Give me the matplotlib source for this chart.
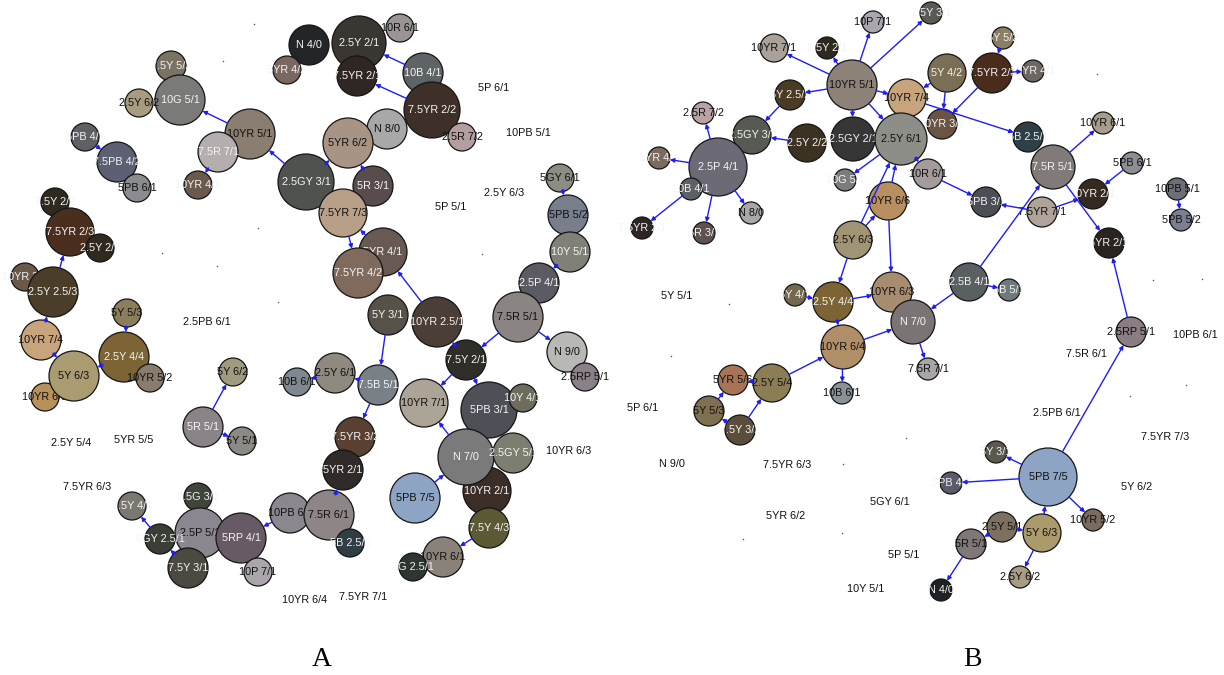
import numpy as np
import matplotlib
matplotlib.use('Agg')
import matplotlib.pyplot as plt
from matplotlib.patches import Circle

plt.rcParams['font.family'] = ['Liberation Sans', 'DejaVu Sans']

# ---- network A: colour chips (name, layout x, layout y, radius, fill, label colour)
a_names = ['7.5Y 5/2', '10G 5/1', '2.5Y 6/2', '5PB 4/1', '7.5PB 4/2', '5PB 6/1',
           '7.5Y 2/2', '7.5YR 2/3', '2.5Y 2/2', '10YR 3/2', '2.5Y 2.5/3', '5Y 5/3',
           '10YR 7/4', '2.5Y 4/4', '10YR 5/2', '10YR 6/5', '5Y 6/3', '5R 5/1',
           '5Y 6/2', '5Y 5/1', '7.5Y 4/1', '2.5G 3/1', '2.5P 5/1', '5GY 2.5/1',
           '7.5Y 3/1', '5RP 4/1', '10P 7/1', '10PB 6/1', '7.5R 6/1', '5B 2.5/1',
           '10B 6/1', '2.5Y 6/1', '7.5B 5/1', '5Y 3/1', '7.5YR 3/2', '5YR 2/1',
           'N 4/0', '10R 6/1', '2.5Y 2/1', '5YR 4/2', '7.5YR 2/1', '10B 4/1',
           '7.5YR 2/2', '2.5R 7/2', '10YR 5/1', '7.5R 7/1', '10YR 4/1', '2.5GY 3/1',
           'N 8/0', '5YR 6/2', '5R 3/1', '7.5YR 7/3', '5YR 4/1', '7.5YR 4/2',
           '5GY 6/1', '5PB 5/2', '10Y 5/1', '2.5P 4/1', '7.5R 5/1', '10YR 2.5/1',
           'N 9/0', '2.5RP 5/1', '7.5Y 2/1', '10YR 7/1', '10YR 2/1', '5PB 3/1',
           '10Y 4/1', 'N 7/0', '2.5GY 5/1', '5PB 7/5', '7.5Y 4/3', '10YR 6/1',
           '5G 2.5/1']
a_x = [171, 180, 139, 85, 117, 137, 55, 70, 100, 25, 53, 127, 41, 124, 150, 45, 74, 203,
       233, 242, 132, 198, 200, 160, 188, 241, 258, 290, 329, 350, 297, 335, 378, 388, 355,
       343, 309, 400, 359, 287, 357, 423, 432, 462, 250, 218, 198, 306, 387, 348, 373, 343,
       383, 358, 560, 568, 570, 539, 518, 437, 567, 585, 466, 424, 487, 489, 523, 466, 513,
       415, 489, 443, 413]
a_y = [66, 100, 103, 137, 162, 188, 202, 232, 248, 277, 292, 313, 340, 357, 378, 397, 376,
       427, 372, 441, 506, 497, 533, 539, 568, 538, 572, 513, 515, 543, 382, 373, 385, 315,
       437, 470, 45, 28, 43, 70, 76, 73, 110, 137, 134, 152, 185, 182, 129, 143, 186, 213,
       252, 273, 178, 215, 252, 283, 317, 322, 352, 377, 360, 403, 491, 410, 398, 457, 453,
       498, 528, 557, 567]
a_r = [15, 25, 14, 14, 20, 14, 14, 24, 14, 14, 25, 14, 20, 25, 14, 14, 25, 20, 14, 14, 14,
       14, 25, 15, 20, 25, 14, 20, 25, 14, 14, 20, 20, 20, 20, 20, 20, 14, 27, 14, 20, 20,
       28, 14, 25, 20, 14, 28, 20, 25, 20, 24, 24, 25, 14, 20, 20, 20, 25, 25, 20, 14, 20,
       24, 24, 28, 14, 28, 20, 25, 20, 20, 14]
a_fill = ['#7a7262', '#7a7a78', '#a89c80', '#5e6064', '#5c6072', '#8a8c90', '#2e2a1e',
          '#4a2e1e', '#302a1e', '#6a5848', '#4a3e28', '#8a7e5c', '#c8a47c', '#7c6434',
          '#8a7c6c', '#b8905c', '#aa9c70', '#8a8488', '#a09a80', '#8c8a84', '#7a7870',
          '#3e463c', '#8a8790', '#3a3e36', '#4c4a40', '#685a64', '#aaa6ac', '#8a888e',
          '#8e8686', '#2e3e44', '#7e888e', '#8e8a80', '#788088', '#575248', '#5a4030',
          '#302a28', '#222628', '#9a9494', '#3a3632', '#7a6860', '#302624', '#5e6466',
          '#3e3028', '#b49ea0', '#8a7e70', '#b4aeae', '#6a5a4e', '#505250', '#a8a8a8',
          '#a89484', '#584c4c', '#b8a088', '#685a52', '#806a5c', '#8c8e84', '#787e8c',
          '#808078', '#5c5a62', '#8a8482', '#4a3e36', '#b8b8b4', '#8a8088', '#302e28',
          '#aca496', '#3a2e26', '#4e5058', '#6e6c5c', '#7a7a7a', '#7c7e70', '#8ea4c4',
          '#5c5a34', '#8a8278', '#2e3632']
a_ink = list('wwkwwkwwwwwkkwkkkwkkwwkwwwkkkwkkwwwwwkwwwwwkkwwwkkwkwwkkwwkwkkwkwwwwwkwkw')

a_edges = [('10YR 5/1', '10G 5/1'), ('7.5R 7/1', '10YR 4/1'), ('2.5GY 3/1', '10YR 5/1'),
           ('2.5GY 3/1', '5YR 6/2'), ('5R 3/1', '5YR 6/2'), ('5YR 4/1', '7.5YR 7/3'),
           ('7.5YR 7/3', '7.5YR 4/2'), ('10YR 2.5/1', '5YR 4/1'), ('10B 4/1', '2.5Y 2/1'),
           ('7.5YR 2/2', '7.5YR 2/1'), ('5GY 6/1', '5PB 5/2'), ('10Y 5/1', '2.5P 4/1'),
           ('7.5R 5/1', 'N 9/0'), ('7.5R 5/1', '7.5Y 2/1'), ('7.5Y 2/1', '10YR 7/1'),
           ('7.5Y 2/1', '5PB 3/1'), ('N 7/0', '10YR 7/1'), ('5PB 7/5', 'N 7/0'),
           ('7.5Y 4/3', '10YR 6/1'), ('5Y 3/1', '7.5B 5/1'), ('7.5B 5/1', '2.5Y 6/1'),
           ('2.5Y 6/1', '10B 6/1'), ('7.5B 5/1', '7.5YR 3/2'), ('7.5R 6/1', '5YR 2/1'),
           ('10PB 6/1', '5RP 4/1'), ('5R 5/1', '5Y 6/2'), ('5R 5/1', '5Y 5/1'),
           ('5GY 2.5/1', '7.5Y 4/1'), ('7.5Y 3/1', '5GY 2.5/1'), ('2.5Y 2.5/3', '7.5YR 2/3'),
           ('10YR 7/4', '2.5Y 2.5/3'), ('10YR 7/4', '5Y 6/3'), ('2.5Y 4/4', '5Y 6/3'),
           ('5Y 5/3', '2.5Y 4/4'), ('5PB 4/1', '7.5PB 4/2'), ('7.5Y 2/1', '10YR 2.5/1')]

a_free = ['5P 6/1', '10PB 5/1', '2.5Y 6/3', '5P 5/1', '2.5PB 6/1', '2.5Y 5/4', '5YR 5/5',
          '7.5YR 6/3', '10YR 6/4', '7.5YR 7/1', '10YR 6/3']
a_free_x = [494, 528, 504, 451, 207, 71, 134, 87, 305, 363, 569]
a_free_y = [88, 133, 193, 207, 322, 443, 440, 487, 600, 597, 451]
a_dot_x = [254, 223, 258, 217, 278, 162, 482]
a_dot_y = [24, 61, 228, 266, 302, 253, 254]

# ---- network B
b_names = ['10YR 7/1', '2.5Y 2/1', '10P 7/1', '7.5Y 3/1', '10YR 5/1', '5Y 2.5/2',
           '2.5R 7/2', '2.5GY 3/1', '2.5Y 2/2', '2.5GY 2/1', '2.5P 4/1', '5YR 4/1',
           '10B 4/1', '7.5YR 2/1', '5R 3/1', 'N 8/0', '5Y 4/1', '5Y 5/2', '7.5YR 2/3',
           '5Y 4/2', '10YR 7/4', '10YR 3/2', '2.5Y 6/1', '10G 5/1', '10R 6/1', '5PB 3/1',
           '10YR 6/6', '2.5Y 6/3', '2.5Y 4/4', '10YR 6/3', '2.5B 4/1', '5B 5/1',
           '10YR 4/1', '5B 2.5/1', '7.5R 5/1', '10YR 6/1', '5PB 6/1', '10YR 2/1',
           '7.5YR 7/1', '5YR 2/1', '10PB 5/1', '5PB 5/2', '2.5RP 5/1', '5PB 7/5',
           '10YR 5/2', '5Y 6/3', '2.5Y 6/2', 'N 7/0', '10YR 6/4', '7.5R 7/1', '10B 6/1',
           '5Y 3/1', '5PB 4/2', '2.5Y 5/1', '5R 5/1', 'N 4/0', '5YR 5/6', '2.5Y 5/4',
           '5Y 5/3', '7.5Y 3/2']
b_x = [774, 827, 873, 931, 852, 790, 703, 752, 807, 853, 718, 659, 691, 642, 704, 751, 795,
       1003, 992, 947, 907, 942, 901, 845, 928, 986, 888, 853, 833, 892, 969, 1009, 1033,
       1028, 1053, 1103, 1132, 1093, 1042, 1109, 1177, 1181, 1131, 1048, 1093, 1042, 1020,
       913, 843, 928, 842, 996, 951, 1002, 971, 941, 733, 772, 709, 740]
b_y = [48, 48, 22, 13, 85, 95, 113, 135, 143, 139, 167, 158, 189, 228, 233, 213, 295, 38,
       73, 73, 98, 124, 139, 180, 174, 202, 201, 240, 302, 292, 282, 290, 71, 137, 167,
       123, 163, 194, 212, 243, 189, 220, 332, 477, 520, 533, 577, 322, 347, 369, 393, 452,
       483, 527, 544, 590, 380, 383, 411, 430]
b_r = [14, 11, 11, 11, 25, 15, 11, 19, 19, 22, 29, 11, 11, 11, 11, 11, 11, 11, 20, 19, 19,
       15, 26, 11, 15, 15, 19, 19, 20, 20, 19, 11, 11, 15, 22, 11, 11, 15, 15, 15, 11, 11,
       15, 29, 11, 19, 11, 22, 22, 11, 11, 11, 11, 15, 15, 11, 15, 19, 15, 15]
b_fill = ['#aaa29a', '#2e2a1e', '#aaa6b0', '#5c5a54', '#8c8278', '#4a3c24', '#b8a2a4',
          '#565a52', '#3c3222', '#363636', '#6c6a74', '#7a6a60', '#5c6264', '#2e2624',
          '#5e5250', '#a8a8a8', '#74684e', '#8a7e64', '#4a2c1c', '#7a6e54', '#c8a47c',
          '#6a5444', '#8e8e88', '#7c7c7c', '#a49c9c', '#4c4e56', '#b89060', '#a09474',
          '#7c6434', '#a88c70', '#5a6062', '#707a7c', '#6e6660', '#2e4046', '#807a78',
          '#a89c8c', '#8c8e94', '#342a20', '#b0a49a', '#2a2420', '#6c6e78', '#7a8090',
          '#8a7e84', '#8ea4c4', '#7a6c5e', '#aa9a6c', '#a89c84', '#7a7474', '#b08e68',
          '#aaa6a6', '#8a9298', '#5c584e', '#5a5c6c', '#7e7060', '#7e7878', '#1e2226',
          '#a87458', '#8c7e54', '#7e7050', '#5a4e3a']
b_ink = list('kwkwkwkwwwwwwwwkwwwwkwkwkwkkwkwwwwwkkwkwkkkkkkkwkkkwwkkwkkkw')

b_edges = [('10YR 5/1', '10YR 7/1'), ('10YR 5/1', '5Y 2.5/2'), ('10YR 5/1', '10P 7/1'),
           ('10YR 5/1', '7.5Y 3/1'), ('10YR 5/1', '2.5Y 2/1'), ('10YR 5/1', '2.5Y 6/1'),
           ('10YR 5/1', '2.5GY 2/1'), ('10YR 5/1', '10YR 7/4'), ('5Y 2.5/2', '2.5GY 3/1'),
           ('2.5Y 2/2', '2.5GY 3/1'), ('2.5P 4/1', '5YR 4/1'), ('2.5P 4/1', '2.5R 7/2'),
           ('2.5P 4/1', '5R 3/1'), ('2.5P 4/1', 'N 8/0'), ('10B 4/1', '7.5YR 2/1'),
           ('5Y 5/2', '7.5YR 2/3'), ('7.5YR 2/3', '10YR 4/1'), ('5Y 4/2', '10YR 7/4'),
           ('5Y 4/2', '10YR 3/2'), ('7.5YR 2/3', '10YR 3/2'), ('10YR 7/4', '5B 2.5/1'),
           ('2.5Y 6/1', '10G 5/1'), ('2.5Y 6/1', '10R 6/1'), ('10R 6/1', '5PB 3/1'),
           ('10YR 6/6', '2.5Y 6/1'), ('2.5Y 6/3', '10YR 6/6'), ('2.5Y 6/3', '2.5Y 4/4'),
           ('2.5Y 6/3', '2.5Y 6/1'), ('10YR 6/6', '10YR 6/3'), ('2.5Y 4/4', '10YR 6/3'),
           ('2.5B 4/1', '5B 5/1'), ('2.5B 4/1', 'N 7/0'), ('2.5B 4/1', '7.5R 5/1'),
           ('7.5R 5/1', '10YR 6/1'), ('5PB 6/1', '10YR 2/1'), ('7.5YR 7/1', '10YR 2/1'),
           ('7.5YR 7/1', '5PB 3/1'), ('7.5R 5/1', '5YR 2/1'), ('2.5RP 5/1', '5YR 2/1'),
           ('10PB 5/1', '5PB 5/2'), ('5PB 7/5', '2.5RP 5/1'), ('5PB 7/5', '10YR 5/2'),
           ('5Y 6/3', '5PB 7/5'), ('5Y 6/3', '2.5Y 6/2'), ('5PB 7/5', '5Y 3/1'),
           ('5PB 7/5', '5PB 4/2'), ('2.5Y 5/1', '5Y 6/3'), ('2.5Y 5/1', '5R 5/1'),
           ('5R 5/1', 'N 4/0'), ('10YR 6/4', 'N 7/0'), ('N 7/0', '7.5R 7/1'),
           ('10YR 6/4', '10B 6/1'), ('2.5Y 5/4', '10YR 6/4'), ('2.5Y 5/4', '5YR 5/6'),
           ('5Y 5/3', '5YR 5/6'), ('7.5Y 3/2', '5Y 5/3'), ('7.5Y 3/2', '2.5Y 5/4'),
           ('2.5Y 4/4', '10YR 6/4'), ('5Y 4/1', '2.5Y 4/4')]

b_free = ['5Y 5/1', '5P 6/1', 'N 9/0', '7.5YR 6/3', '5YR 6/2', '5GY 6/1', '5P 5/1',
          '10Y 5/1', '10PB 6/1', '7.5R 6/1', '2.5PB 6/1', '7.5YR 7/3', '5Y 6/2']
b_free_x = [677, 643, 672, 787, 786, 890, 904, 866, 1195, 1086, 1057, 1165, 1137]
b_free_y = [296, 408, 464, 465, 516, 502, 555, 589, 335, 354, 413, 437, 487]
b_dot_x = [1097, 1153, 1202, 1186, 1130, 906, 843, 842, 671, 743, 729]
b_dot_y = [74, 280, 279, 385, 396, 438, 464, 533, 356, 539, 304]

EDGE = '#1c1cff'
INK = {'w': '#f4f4f4', 'k': '#111111'}


def draw_network(ax, names, xs, ys, rs, fills, inks, edges):
    pos = {n: (x, y, r) for n, x, y, r in zip(names, xs, ys, rs)}
    z = 3
    for n, x, y, r, fc, ink in zip(names, xs, ys, rs, fills, inks):
        ax.add_patch(Circle((x, y), r, facecolor=fc, edgecolor='#151515', lw=0.9, zorder=z))
        ax.text(x, y, n, ha='center', va='center', fontsize=7.8, color=INK[ink], zorder=z + 0.5)
        z += 1
    for s, d in edges:
        x0, y0, r0 = pos[s]
        x1, y1, r1 = pos[d]
        v = np.array([x1 - x0, y1 - y0], dtype=float)
        dist = np.hypot(*v)
        u = v / dist
        end = np.array([x1, y1]) - u * r1
        start = np.array([x0, y0]) + u * r0
        if dist - r0 - r1 < 6:
            start = end - u * 6
        ax.annotate('', xy=end, xytext=start, zorder=z + 10,
                    arrowprops=dict(arrowstyle='-|>', color=EDGE, lw=1.0,
                                    mutation_scale=6, shrinkA=0, shrinkB=0))


fig = plt.figure(figsize=(12.24, 6.75), dpi=100)
ax = fig.add_axes([0, 0, 1, 1])
ax.set_xlim(0, 1224)
ax.set_ylim(675, 0)
ax.set_aspect('equal')
ax.axis('off')

draw_network(ax, a_names, a_x, a_y, a_r, a_fill, a_ink, a_edges)
draw_network(ax, b_names, b_x, b_y, b_r, b_fill, b_ink, b_edges)

for names, xs, ys in [(a_free, a_free_x, a_free_y), (b_free, b_free_x, b_free_y)]:
    for n, x, y in zip(names, xs, ys):
        ax.text(x, y, n, ha='center', va='center', fontsize=7.8, color='#111111')

ax.scatter(a_dot_x + b_dot_x, a_dot_y + b_dot_y, s=1.2, color='#555555', lw=0)

ax.text(322, 660, 'A', ha='center', va='center', fontsize=20,
        family=['Liberation Serif', 'DejaVu Serif'])
ax.text(972, 660, 'B', ha='center', va='center', fontsize=20,
        family=['Liberation Serif', 'DejaVu Serif'])

fig.savefig('out.png', dpi=100, facecolor='white')
